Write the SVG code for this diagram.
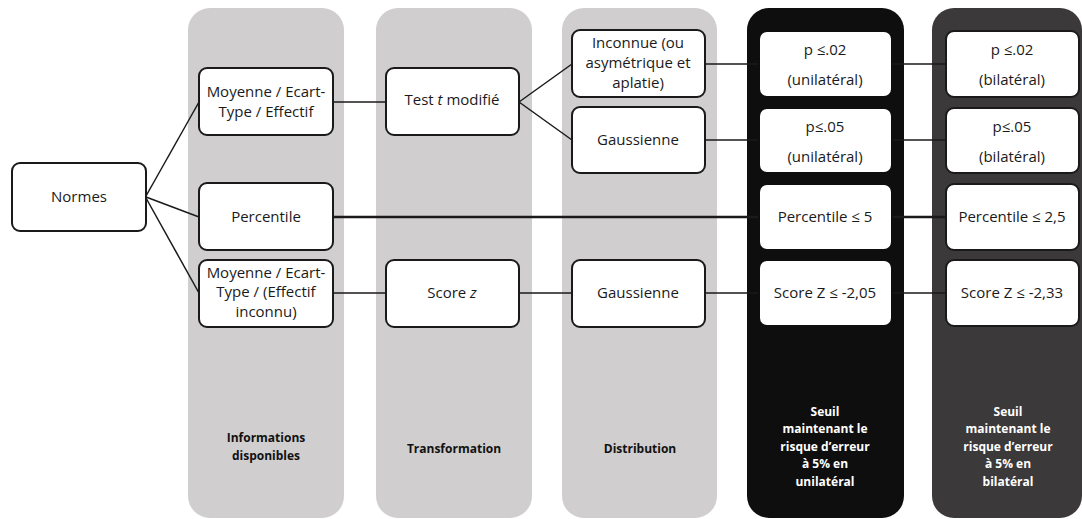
<svg xmlns="http://www.w3.org/2000/svg" width="1082" height="519" viewBox="0 0 1082 519">
<style>
.col{fill:#d0cecf}
.colk{fill:#0e0e0e}
.cold{fill:#3b393a}
.box{fill:#fff;stroke:#1a1a1a;stroke-width:2}
.boxk{fill:#fff;stroke:#0e0e0e;stroke-width:2}
.t{font-family:"Open Sans","Liberation Sans",sans-serif;font-size:15px;fill:#1a1a1a;text-anchor:middle}
.lb{font-family:"Open Sans","Liberation Sans",sans-serif;font-size:12px;font-weight:bold;fill:#111;text-anchor:middle}
.lw{font-family:"Open Sans","Liberation Sans",sans-serif;font-size:12px;font-weight:bold;fill:#fff;text-anchor:middle}
.c{stroke:#1a1a1a;stroke-width:1.5;fill:none}
.ct{stroke:#1a1a1a;stroke-width:2.5;fill:none}
</style>
<rect width="1082" height="519" fill="#fff"/>
<g id="col-info"><rect class="col" x="188" y="8" width="156" height="510" rx="22"/><text class="lb" x="266" y="442">Informations</text><text class="lb" x="266" y="460">disponibles</text></g>
<g id="col-transfo"><rect class="col" x="376" y="8" width="156" height="510" rx="22"/><text class="lb" x="454" y="453">Transformation</text></g>
<g id="col-distrib"><rect class="col" x="562" y="8" width="155" height="510" rx="22"/><text class="lb" x="640" y="453">Distribution</text></g>
<g id="col-uni"><rect class="colk" x="747" y="8" width="157" height="510" rx="22"/>
<text class="lw" x="825" y="416">Seuil</text><text class="lw" x="825" y="433">maintenant le</text><text class="lw" x="825" y="451">risque d’erreur</text><text class="lw" x="825" y="468">à 5% en</text><text class="lw" x="825" y="486">unilatéral</text></g>
<g id="col-bi"><rect class="cold" x="932" y="8" width="150" height="510" rx="22"/>
<text class="lw" x="1008" y="416">Seuil</text><text class="lw" x="1008" y="433">maintenant le</text><text class="lw" x="1008" y="451">risque d’erreur</text><text class="lw" x="1008" y="468">à 5% en</text><text class="lw" x="1008" y="486">bilatéral</text></g>
<g id="connectors">
<path class="c" d="M146 196 L199 102"/>
<path class="c" d="M146 197 L199 217"/>
<path class="c" d="M146 198 L199 293"/>
<path class="c" d="M333 102 H386"/>
<path class="c" d="M519 102 L572 64"/>
<path class="c" d="M519 102 L572 140"/>
<path class="c" d="M705 64 H946"/>
<path class="c" d="M705 140 H946"/>
<path class="ct" d="M333 217 H946"/>
<path class="c" d="M333 293 H946"/>
</g>
<g id="normes"><rect class="box" x="12" y="163" width="134" height="68" rx="8"/><text class="t" x="79" y="202">Normes</text></g>
<g id="moy1"><rect class="box" x="199" y="68" width="134" height="67" rx="8"/><text class="t" x="266" y="97">Moyenne / Ecart-</text><text class="t" x="266" y="117">Type / Effectif</text></g>
<g id="percentile"><rect class="box" x="199" y="183" width="134" height="67" rx="8"/><text class="t" x="266" y="222">Percentile</text></g>
<g id="moy2"><rect class="box" x="199" y="260" width="134" height="67" rx="8"/><text class="t" x="266" y="278">Moyenne / Ecart-</text><text class="t" x="266" y="297">Type / (Effectif</text><text class="t" x="266" y="317">inconnu)</text></g>
<g id="testt"><rect class="box" x="386" y="68" width="133" height="67" rx="8"/><text class="t" x="452" y="105">Test <tspan font-style="italic">t</tspan> modifié</text></g>
<g id="scorez"><rect class="box" x="386" y="260" width="133" height="67" rx="8"/><text class="t" x="452" y="298">Score <tspan font-style="italic">z</tspan></text></g>
<g id="inconnue"><rect class="box" x="572" y="30" width="133" height="67" rx="8"/><text class="t" x="638" y="48">Inconnue (ou</text><text class="t" x="638" y="68">asymétrique et</text><text class="t" x="638" y="88">aplatie)</text></g>
<g id="gauss1"><rect class="box" x="572" y="107" width="133" height="66" rx="8"/><text class="t" x="638" y="145">Gaussienne</text></g>
<g id="gauss2"><rect class="box" x="572" y="260" width="133" height="67" rx="8"/><text class="t" x="638" y="298">Gaussienne</text></g>
<g id="u-p02"><rect class="boxk" x="759" y="31" width="133" height="66" rx="8"/><text class="t" x="825" y="55">p ≤.02</text><text class="t" x="825" y="85">(unilatéral)</text></g>
<g id="u-p05"><rect class="boxk" x="759" y="108" width="133" height="65" rx="8"/><text class="t" x="825" y="132">p≤.05</text><text class="t" x="825" y="162">(unilatéral)</text></g>
<g id="u-perc"><rect class="boxk" x="759" y="184" width="133" height="66" rx="8"/><text class="t" x="825" y="222">Percentile ≤ 5</text></g>
<g id="u-z"><rect class="boxk" x="759" y="260" width="133" height="66" rx="8"/><text class="t" x="825" y="298">Score Z ≤ -2,05</text></g>
<g id="b-p02"><rect class="box" x="946" y="31" width="133" height="66" rx="8"/><text class="t" x="1012" y="55">p ≤.02</text><text class="t" x="1012" y="85">(bilatéral)</text></g>
<g id="b-p05"><rect class="box" x="946" y="108" width="133" height="65" rx="8"/><text class="t" x="1012" y="132">p≤.05</text><text class="t" x="1012" y="162">(bilatéral)</text></g>
<g id="b-perc"><rect class="box" x="946" y="184" width="133" height="66" rx="8"/><text class="t" x="1012" y="222">Percentile ≤ 2,5</text></g>
<g id="b-z"><rect class="box" x="946" y="260" width="133" height="66" rx="8"/><text class="t" x="1012" y="298">Score Z ≤ -2,33</text></g>
</svg>
